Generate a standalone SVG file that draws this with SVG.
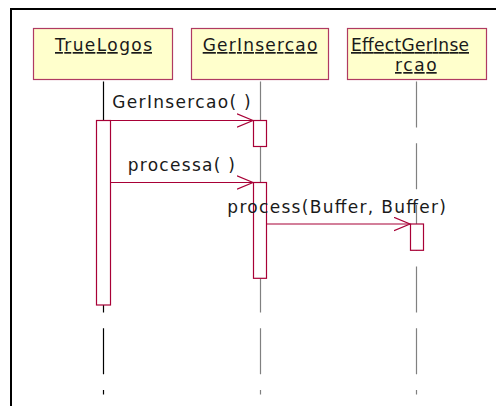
<svg xmlns="http://www.w3.org/2000/svg" width="496" height="406" viewBox="0 0 496 406">
<defs>
<style>
.t{font-family:"DejaVu Sans",Verdana,sans-serif;font-size:17px;fill:#1a1a1a}
.u{text-decoration:underline}
.box{fill:#FFFFCC;stroke:#B03A62;stroke-width:1.2}
.act{fill:#FFFFFF;stroke:#A80036;stroke-width:1.2}
.msg{stroke:#A80036;stroke-width:1.2;fill:none}
.life{stroke-width:1.2;stroke-dasharray:46 15.7;fill:none}
</style>
<marker id="arr" markerWidth="18" markerHeight="16" refX="16" refY="7.5" orient="auto" markerUnits="userSpaceOnUse">
<path d="M0,0.8 L16,7.5 L0,14.2" fill="none" stroke="#A80036" stroke-width="1.2"/>
</marker>
</defs>
<rect width="496" height="406" fill="#FFFFFF"/>
<rect x="11" y="9" width="500" height="420" fill="none" stroke="#000000" stroke-width="2"/>
<g id="lifelines">
<line class="life" x1="103.5" y1="81.5" x2="103.5" y2="394.5" stroke="#000000"/>
<line class="life" x1="260.5" y1="81.5" x2="260.5" y2="394.5" stroke="#808080"/>
<line class="life" x1="416.5" y1="81.5" x2="416.5" y2="394.5" stroke="#808080"/>
</g>
<g id="TrueLogos">
<rect class="box" x="33.5" y="28.5" width="139" height="51"/>
<text class="t u" x="55" y="51" textLength="97" lengthAdjust="spacing">TrueLogos</text>
<rect class="act" x="96.5" y="120.5" width="14" height="184.5"/>
</g>
<g id="GerInsercao">
<rect class="box" x="191.5" y="28.5" width="137" height="51"/>
<text class="t u" x="202.7" y="51" textLength="114.6" lengthAdjust="spacing">GerInsercao</text>
<rect class="act" x="253.5" y="120.5" width="13" height="26"/>
<rect class="act" x="253.5" y="182.5" width="13" height="95.8"/>
</g>
<g id="EffectGerInsercao">
<rect class="box" x="347.5" y="28.5" width="139" height="51"/>
<text class="t u" x="351" y="51" textLength="118" lengthAdjust="spacing">EffectGerInse</text>
<text class="t u" x="395" y="71" textLength="41.7" lengthAdjust="spacing">rcao</text>
<rect class="act" x="410.5" y="224" width="13" height="26.3"/>
</g>
<g id="connectors">
<line class="msg" x1="110.5" y1="120.5" x2="253" y2="120.5" marker-end="url(#arr)"/>
<text class="t" x="112.3" y="107.7" textLength="138.4" lengthAdjust="spacing">GerInsercao( )</text>
<line class="msg" x1="110.5" y1="182.5" x2="253" y2="182.5" marker-end="url(#arr)"/>
<text class="t" x="127.7" y="171" textLength="107.3" lengthAdjust="spacing">processa( )</text>
<line class="msg" x1="266.5" y1="224" x2="410" y2="224" marker-end="url(#arr)"/>
<text class="t" x="227.3" y="212.7" textLength="218.7" lengthAdjust="spacing">process(Buffer, Buffer)</text>
</g>
</svg>
